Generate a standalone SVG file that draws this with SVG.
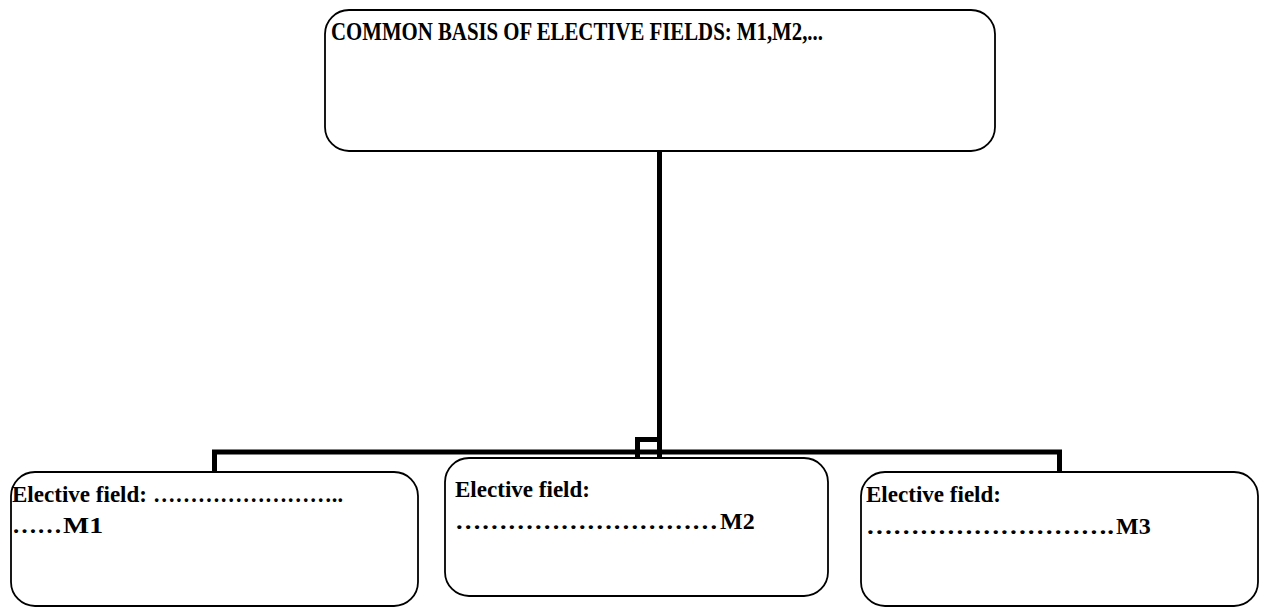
<svg xmlns="http://www.w3.org/2000/svg" width="1263" height="608" viewBox="0 0 1263 608">
  <style>
    .box { fill: #ffffff; stroke: #000000; stroke-width: 1.8; }
    .link { fill: none; stroke: #000000; stroke-width: 5; stroke-linejoin: miter; stroke-linecap: butt; }
    .label { font-family: "Liberation Serif", "Times New Roman", serif; font-weight: bold; font-size: 24px; fill: #000000; }
    .title { font-size: 25px; }
  </style>
  <rect width="1263" height="608" fill="#ffffff"/>

  <!-- tree connectors -->
  <g id="connectors">
    <path class="link" d="M659.5 151 V458"/>
    <path class="link" d="M637.5 458 V439.5 H659.5"/>
    <path class="link" d="M214.5 472 V452 H1059.5 V472"/>
  </g>

  <g id="node-common">
    <rect class="box" x="325" y="10" width="670" height="141" rx="24" ry="24"/>
    <text class="label title" x="331" y="40" textLength="492" lengthAdjust="spacingAndGlyphs">COMMON BASIS OF ELECTIVE FIELDS: M1,M2,...</text>
  </g>

  <g id="node-m1">
    <rect class="box" x="11" y="472" width="407" height="134" rx="24" ry="24"/>
    <text class="label" x="12" y="502" textLength="135" lengthAdjust="spacingAndGlyphs">Elective field:</text>
    <text class="label" x="153" y="502" textLength="190" lengthAdjust="spacingAndGlyphs">……………………..</text>
    <text class="label" x="12" y="533" textLength="50" lengthAdjust="spacingAndGlyphs">……</text>
    <text class="label" x="63" y="533" textLength="40" lengthAdjust="spacingAndGlyphs">M1</text>
  </g>

  <g id="node-m2">
    <rect class="box" x="445" y="458" width="383" height="138" rx="24" ry="24"/>
    <text class="label" x="455" y="497" textLength="135" lengthAdjust="spacingAndGlyphs">Elective field:</text>
    <text class="label" x="455" y="529" textLength="263" lengthAdjust="spacingAndGlyphs">…………………………</text>
    <text class="label" x="720" y="529">M2</text>
  </g>

  <g id="node-m3">
    <rect class="box" x="861" y="472" width="397" height="134" rx="24" ry="24"/>
    <text class="label" x="866" y="502" textLength="135" lengthAdjust="spacingAndGlyphs">Elective field:</text>
    <text class="label" x="866" y="534" textLength="248" lengthAdjust="spacingAndGlyphs">……………………….</text>
    <text class="label" x="1116" y="534">M3</text>
  </g>
</svg>
